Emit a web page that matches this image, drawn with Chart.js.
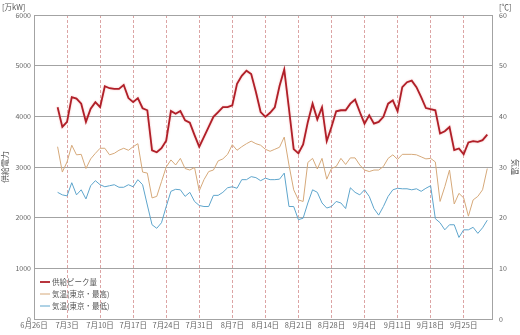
<!DOCTYPE html>
<html>
<head>
<meta charset="utf-8">
<script src="https://cdn.jsdelivr.net/npm/chart.js@4/dist/chart.umd.min.js"></script>
<style>
  html, body { margin: 0; padding: 0; background: #ffffff; }
  #chart { display: block; }
</style>
</head>
<body>
<canvas id="chart" width="520" height="335"></canvas>
<script>
// Daily series, 2011-07-01 .. 2011-09-30 (day index counted from 6/26)
const firstDay = 5;

// 供給ピーク量 [万kW]
const peakSupply = [
  4180, 3790, 3890,                               // 7/1 - 7/3
  4380, 4350, 4250, 3890, 4150, 4280, 4180,       // 7/4 - 7/10
  4595, 4555, 4540, 4540, 4620, 4360, 4280,       // 7/11 - 7/17
  4360, 4160, 4120, 3330, 3290, 3370, 3520,       // 7/18 - 7/24
  4105, 4050, 4105, 3920, 3875, 3630, 3400,       // 7/25 - 7/31
  3595, 3790, 3990, 4085, 4180, 4180, 4215,       // 8/1 - 8/7
  4640, 4800, 4900, 4835, 4480, 4085, 3990,       // 8/8 - 8/14
  4070, 4180, 4600, 4922, 4150, 3353, 3268,       // 8/15 - 8/21
  3445, 3890, 4250, 3940, 4180, 3510, 3790,       // 8/22 - 8/28
  4100, 4120, 4120, 4250, 4330, 4085, 3855,       // 8/29 - 9/4
  4020, 3855, 3890, 3990, 4250, 4315, 4100,       // 9/5 - 9/11
  4575, 4673, 4705, 4575, 4380, 4163, 4140,       // 9/12 - 9/18
  4120, 3660, 3705, 3790, 3333, 3365, 3250,       // 9/19 - 9/25
  3485, 3510, 3497, 3530, 3640                    // 9/26 - 9/30
];

// 気温(東京・最高) [℃]
const tempHigh = [
  34.0, 29.0, 31.0,
  34.3, 32.4, 32.5, 29.7, 31.6, 32.7, 33.7,
  33.7, 32.4, 32.7, 33.3, 33.7, 33.3, 34.0,
  34.6, 29.0, 28.8, 23.9, 24.2, 27.1, 30.0,
  31.4, 30.4, 31.7, 29.7, 29.4, 29.9, 25.3,
  27.5, 29.1, 29.4, 31.2, 31.6, 32.5, 34.4,
  33.3, 34.0, 34.6, 35.1, 34.6, 34.3, 33.5,
  33.1, 33.5, 33.9, 35.9, 30.4, 25.5, 23.5,
  23.2, 30.9, 31.7, 29.6, 31.7, 27.6, 29.7,
  30.1, 31.7, 30.5, 31.8, 31.8, 30.4, 29.4,
  29.1, 29.4, 29.4, 30.1, 31.7, 32.4, 31.5,
  32.5, 32.5, 32.5, 32.4, 32.0, 31.6, 31.7,
  31.0, 23.2, 26.1, 29.4, 22.7, 24.8, 23.9,
  20.3, 23.5, 24.2, 25.5, 29.7
];

// 気温(東京・最低) [℃]
const tempLow = [
  25.0, 24.5, 24.3,
  26.9, 24.5, 25.5, 23.7, 26.3, 27.3, 26.5,
  26.1, 26.3, 26.5, 26.0, 26.0, 26.5, 26.1,
  27.5, 26.5, 22.5, 18.6, 17.9, 19.0, 22.2,
  25.2, 25.6, 25.5, 24.2, 25.0, 23.2, 22.4,
  22.2, 22.2, 24.4, 24.4, 25.0, 25.9, 26.1,
  25.8, 27.5, 27.5, 28.1, 27.9, 27.3, 27.8,
  27.5, 27.5, 27.6, 28.8, 22.2, 22.2, 19.6,
  19.9, 22.9, 25.5, 25.0, 22.9, 21.9, 22.2,
  23.2, 22.9, 21.8, 25.9, 25.0, 24.5, 25.5,
  24.2, 21.8, 20.5, 22.2, 24.2, 25.5, 25.8,
  25.7, 25.7, 25.5, 25.7, 25.2, 25.8, 26.3,
  19.8, 19.0, 17.6, 18.6, 18.6, 16.1, 17.6,
  17.6, 18.1, 16.9, 18.0, 19.5
];

// Weekly date labels on the x axis (every 7 days from 6/26)
const weekLabels = [
  '6月26日', '7月3日', '7月10日', '7月17日', '7月24日', '7月31日', '8月7日',
  '8月14日', '8月21日', '8月28日', '9月4日', '9月11日', '9月18日', '9月25日'
];

const seriesNames = ['供給ピーク量', '気温(東京・最高)', '気温(東京・最低)'];

const toPoints = arr => arr.map((v, i) => ({ x: firstDay + i, y: v }));

const FONT = '"Noto Sans CJK JP", "Noto Sans", sans-serif';
const TEXT = '#666666';
const GRID = '#a3a3a3';

// Soft halo under the supply line
const haloPlugin = {
  id: 'halo',
  beforeDatasetDraw(chart, args) {
    if (args.index === 0) {
      const ctx = chart.ctx;
      ctx.save();
      ctx.shadowColor = 'rgba(235, 140, 140, 0.6)';
      ctx.shadowBlur = 2;
    }
  },
  afterDatasetDraw(chart, args) {
    if (args.index === 0) chart.ctx.restore();
  }
};

// Legend inside the lower-left corner of the plot, plus unit captions
const overlayPlugin = {
  id: 'overlay',
  afterDraw(chart) {
    const ctx = chart.ctx;
    const area = chart.chartArea;
    ctx.save();
    ctx.font = '7.5px ' + FONT;
    ctx.textBaseline = 'middle';
    chart.data.datasets.forEach((ds, i) => {
      const y = area.bottom - 37 + i * 12;
      const x = area.left + 6;
      ctx.strokeStyle = ds.borderColor;
      ctx.lineWidth = ds.borderWidth;
      ctx.beginPath();
      ctx.moveTo(x, y);
      ctx.lineTo(x + 10, y);
      ctx.stroke();
      ctx.fillStyle = '#555555';
      ctx.textAlign = 'left';
      ctx.fillText(ds.label, x + 12, y);
    });
    ctx.fillStyle = '#555555';
    ctx.font = '7.5px ' + FONT;
    ctx.textAlign = 'left';
    ctx.fillText('[万kW]', 2, 7);
    ctx.fillText('[℃]', 499, 7);
    ctx.restore();
  }
};

new Chart(document.getElementById('chart'), {
  type: 'line',
  data: {
    datasets: [
      {
        label: seriesNames[0],
        data: toPoints(peakSupply),
        yAxisID: 'yPower',
        borderColor: '#b01f28',
        borderWidth: 1.8,
        pointRadius: 0,
        tension: 0
      },
      {
        label: seriesNames[1],
        data: toPoints(tempHigh),
        yAxisID: 'yTemp',
        borderColor: '#d6a97a',
        borderWidth: 1,
        pointRadius: 0,
        tension: 0
      },
      {
        label: seriesNames[2],
        data: toPoints(tempLow),
        yAxisID: 'yTemp',
        borderColor: '#5ea5cc',
        borderWidth: 1,
        pointRadius: 0,
        tension: 0
      }
    ]
  },
  options: {
    responsive: false,
    animation: false,
    devicePixelRatio: 1,
    layout: { padding: { top: 15, left: 0, right: 0, bottom: 0 } },
    plugins: {
      legend: { display: false },
      tooltip: { enabled: false }
    },
    scales: {
      x: {
        type: 'linear',
        min: 0,
        max: 97,
        afterBuildTicks(scale) {
          scale.ticks = weekLabels.map((_, i) => ({ value: i * 7 }));
        },
        afterFit(scale) { scale.height = 16; },
        ticks: {
          autoSkip: false,
          maxRotation: 0,
          padding: 2,
          color: TEXT,
          font: { family: FONT, size: 7.5 },
          callback: v => weekLabels[Math.round(v / 7)]
        },
        grid: {
          drawTicks: false,
          color: ctx => (ctx.tick && ctx.tick.value === 0) ? 'rgba(0,0,0,0)' : '#dca4a4',
          lineWidth: 1
        },
        border: { display: false, dash: [3, 2] }
      },
      yPower: {
        position: 'left',
        min: 0,
        max: 6000,
        afterFit(scale) { scale.width = 34; },
        ticks: {
          stepSize: 1000,
          padding: 3,
          color: TEXT,
          font: { family: FONT, size: 7 },
          callback: v => String(v)
        },
        grid: { drawTicks: false, color: GRID, lineWidth: 1 },
        border: { display: true, color: GRID, width: 1 },
        title: {
          display: true,
          text: '供給電力',
          color: '#555555',
          padding: 0,
          font: { family: FONT, size: 8 }
        }
      },
      yTemp: {
        position: 'right',
        min: 0,
        max: 60,
        afterFit(scale) { scale.width = 28; },
        ticks: {
          stepSize: 10,
          padding: 7,
          color: TEXT,
          font: { family: FONT, size: 7 },
          callback: v => String(v)
        },
        grid: { drawOnChartArea: false, drawTicks: false },
        border: { display: true, color: GRID, width: 1 },
        title: {
          display: true,
          text: '気温',
          color: '#555555',
          padding: 0,
          font: { family: FONT, size: 8 }
        }
      }
    }
  },
  plugins: [haloPlugin, overlayPlugin]
});
</script>
</body>
</html>
